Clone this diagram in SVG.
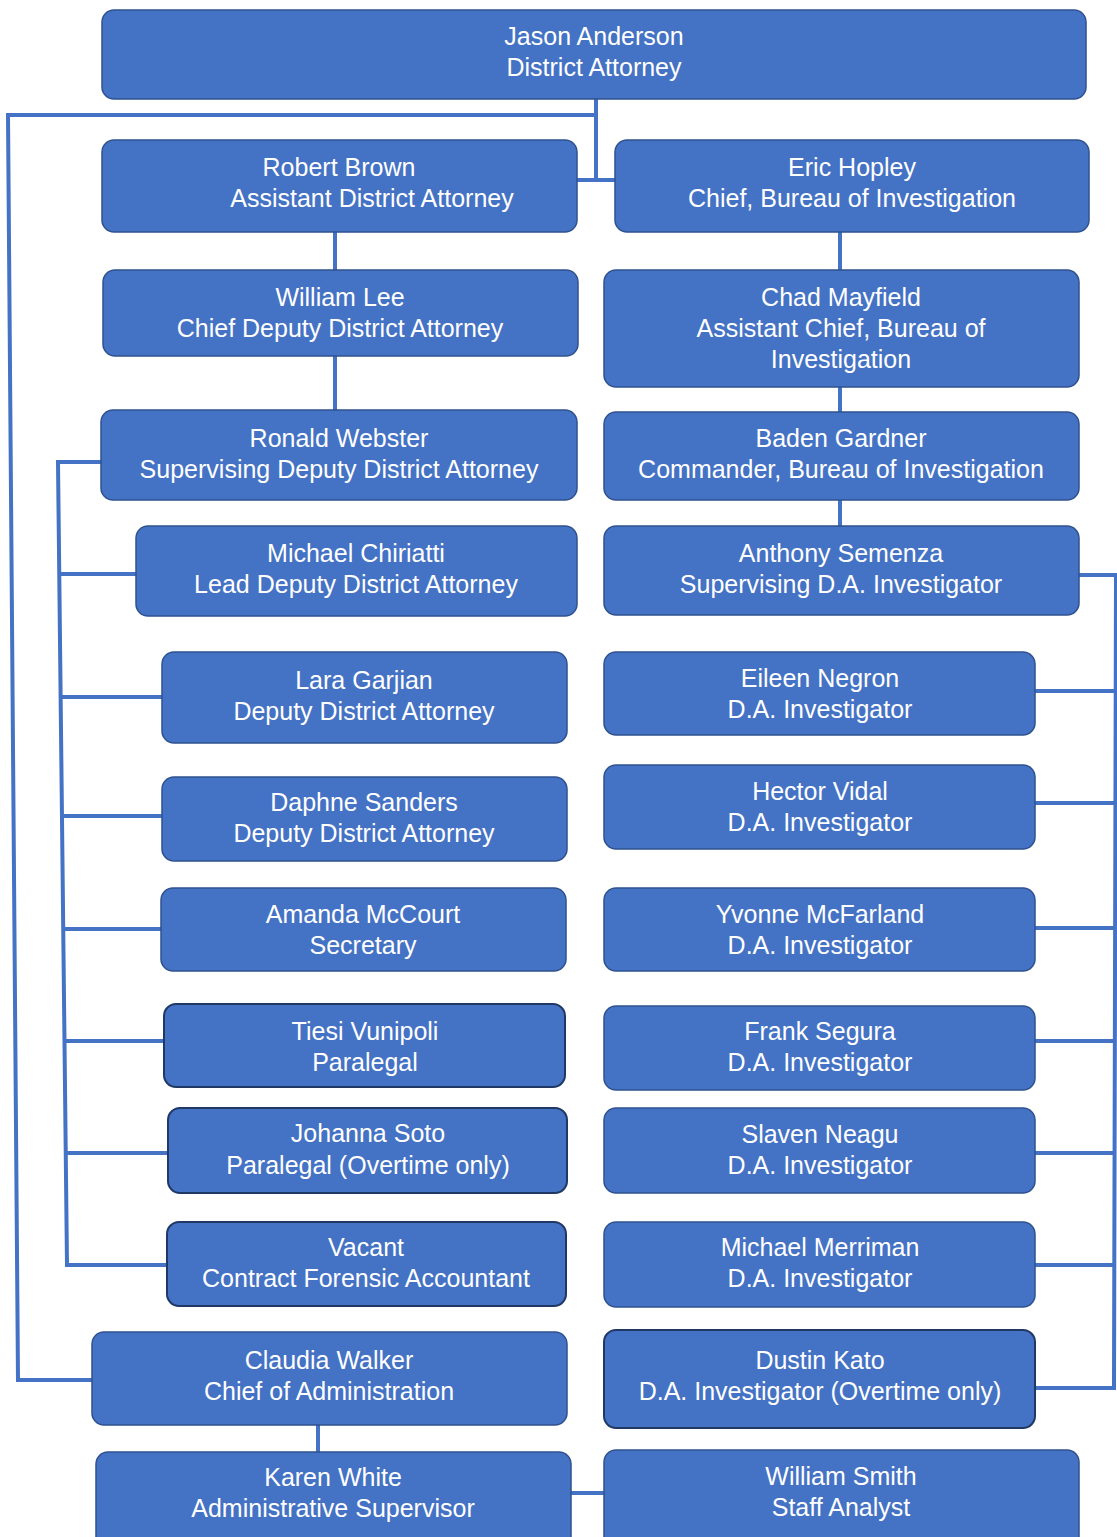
<svg xmlns="http://www.w3.org/2000/svg" width="1117" height="1537" viewBox="0 0 1117 1537">
<style>
.box{fill:#4472C4;stroke:#2F528F;stroke-width:1.5}
.dk{stroke:#1F3864;stroke-width:2}
.t{font-family:"Liberation Sans",Arial,sans-serif;font-size:25px;fill:#FFFFFF;text-anchor:middle}
.c{fill:none;stroke:#4472C4;stroke-width:4}
</style>
<rect width="1117" height="1537" fill="#FFFFFF"/>
<g id="connectors">
<polyline class="c" points="596,99 596,182"/>
<polyline class="c" points="577,180 615,180"/>
<polyline class="c" points="596,115 8,115 18,1380 92,1380"/>
<polyline class="c" points="335,232 335,270"/>
<polyline class="c" points="335,356 335,410"/>
<polyline class="c" points="840,232 840,270"/>
<polyline class="c" points="840,387 840,412"/>
<polyline class="c" points="840,500 840,526"/>
<polyline class="c" points="101,462 58,462 67,1265 167,1265"/>
<line class="c" x1="59" y1="574" x2="136" y2="574"/>
<line class="c" x1="60" y1="697" x2="162" y2="697"/>
<line class="c" x1="61" y1="816" x2="162" y2="816"/>
<line class="c" x1="63" y1="929" x2="161" y2="929"/>
<line class="c" x1="64" y1="1041" x2="164" y2="1041"/>
<line class="c" x1="65" y1="1153" x2="168" y2="1153"/>
<polyline class="c" points="1079,575 1116,575 1114,1388 1035,1388"/>
<line class="c" x1="1035" y1="691" x2="1116" y2="691"/>
<line class="c" x1="1035" y1="803" x2="1116" y2="803"/>
<line class="c" x1="1035" y1="928" x2="1115" y2="928"/>
<line class="c" x1="1035" y1="1041" x2="1115" y2="1041"/>
<line class="c" x1="1035" y1="1153" x2="1115" y2="1153"/>
<line class="c" x1="1035" y1="1265" x2="1115" y2="1265"/>
<polyline class="c" points="318,1425 318,1452"/>
<polyline class="c" points="571,1493 604,1493"/>
</g>
<g id="jason"><rect class="box" x="102" y="10" width="984" height="89" rx="12"/><text class="t" x="594" y="45">Jason Anderson</text><text class="t" x="594" y="76">District Attorney</text></g>
<g id="robert"><rect class="box" x="102" y="140" width="475" height="92" rx="12"/><text class="t" x="339" y="176">Robert Brown</text><text class="t" x="372" y="207">Assistant District Attorney</text></g>
<g id="eric"><rect class="box" x="615" y="140" width="474" height="92" rx="12"/><text class="t" x="852" y="176">Eric Hopley</text><text class="t" x="852" y="207">Chief, Bureau of Investigation</text></g>
<g id="william-lee"><rect class="box" x="103" y="270" width="475" height="86" rx="12"/><text class="t" x="340" y="306">William Lee</text><text class="t" x="340" y="337">Chief Deputy District Attorney</text></g>
<g id="chad"><rect class="box" x="604" y="270" width="475" height="117" rx="12"/><text class="t" x="841" y="306">Chad Mayfield</text><text class="t" x="841" y="337">Assistant Chief, Bureau of</text><text class="t" x="841" y="368">Investigation</text></g>
<g id="ronald"><rect class="box" x="101" y="410" width="476" height="90" rx="12"/><text class="t" x="339" y="447">Ronald Webster</text><text class="t" x="339" y="478">Supervising Deputy District Attorney</text></g>
<g id="baden"><rect class="box" x="604" y="412" width="475" height="88" rx="12"/><text class="t" x="841" y="447">Baden Gardner</text><text class="t" x="841" y="478">Commander, Bureau of Investigation</text></g>
<g id="michael-chiriatti"><rect class="box" x="136" y="526" width="441" height="90" rx="12"/><text class="t" x="356" y="562">Michael Chiriatti</text><text class="t" x="356" y="593">Lead Deputy District Attorney</text></g>
<g id="anthony"><rect class="box" x="604" y="526" width="475" height="89" rx="12"/><text class="t" x="841" y="562">Anthony Semenza</text><text class="t" x="841" y="593">Supervising D.A. Investigator</text></g>
<g id="lara"><rect class="box" x="162" y="652" width="405" height="91" rx="12"/><text class="t" x="364" y="689">Lara Garjian</text><text class="t" x="364" y="720">Deputy District Attorney</text></g>
<g id="eileen"><rect class="box" x="604" y="652" width="431" height="83" rx="12"/><text class="t" x="820" y="687">Eileen Negron</text><text class="t" x="820" y="718">D.A. Investigator</text></g>
<g id="daphne"><rect class="box" x="162" y="777" width="405" height="84" rx="12"/><text class="t" x="364" y="811">Daphne Sanders</text><text class="t" x="364" y="842">Deputy District Attorney</text></g>
<g id="hector"><rect class="box" x="604" y="765" width="431" height="84" rx="12"/><text class="t" x="820" y="800">Hector Vidal</text><text class="t" x="820" y="831">D.A. Investigator</text></g>
<g id="amanda"><rect class="box" x="161" y="888" width="405" height="83" rx="12"/><text class="t" x="363" y="923">Amanda McCourt</text><text class="t" x="363" y="954">Secretary</text></g>
<g id="yvonne"><rect class="box" x="604" y="888" width="431" height="83" rx="12"/><text class="t" x="820" y="923">Yvonne McFarland</text><text class="t" x="820" y="954">D.A. Investigator</text></g>
<g id="tiesi"><rect class="box dk" x="164" y="1004" width="401" height="83" rx="12"/><text class="t" x="365" y="1040">Tiesi Vunipoli</text><text class="t" x="365" y="1071">Paralegal</text></g>
<g id="frank"><rect class="box" x="604" y="1006" width="431" height="84" rx="12"/><text class="t" x="820" y="1040">Frank Segura</text><text class="t" x="820" y="1071">D.A. Investigator</text></g>
<g id="johanna"><rect class="box dk" x="168" y="1108" width="399" height="85" rx="12"/><text class="t" x="368" y="1142">Johanna Soto</text><text class="t" x="368" y="1174">Paralegal (Overtime only)</text></g>
<g id="slaven"><rect class="box" x="604" y="1108" width="431" height="85" rx="12"/><text class="t" x="820" y="1143">Slaven Neagu</text><text class="t" x="820" y="1174">D.A. Investigator</text></g>
<g id="vacant"><rect class="box dk" x="167" y="1222" width="399" height="84" rx="12"/><text class="t" x="366" y="1256">Vacant</text><text class="t" x="366" y="1287">Contract Forensic Accountant</text></g>
<g id="michael-merriman"><rect class="box" x="604" y="1222" width="431" height="85" rx="12"/><text class="t" x="820" y="1256">Michael Merriman</text><text class="t" x="820" y="1287">D.A. Investigator</text></g>
<g id="claudia"><rect class="box" x="92" y="1332" width="475" height="93" rx="12"/><text class="t" x="329" y="1369">Claudia Walker</text><text class="t" x="329" y="1400">Chief of Administration</text></g>
<g id="dustin"><rect class="box dk" x="604" y="1330" width="431" height="98" rx="12"/><text class="t" x="820" y="1369">Dustin Kato</text><text class="t" x="820" y="1400">D.A. Investigator (Overtime only)</text></g>
<g id="karen"><rect class="box" x="96" y="1452" width="475" height="100" rx="12"/><text class="t" x="333" y="1486">Karen White</text><text class="t" x="333" y="1517">Administrative Supervisor</text></g>
<g id="william-smith"><rect class="box" x="604" y="1450" width="475" height="102" rx="12"/><text class="t" x="841" y="1485">William Smith</text><text class="t" x="841" y="1516">Staff Analyst</text></g>
</svg>
